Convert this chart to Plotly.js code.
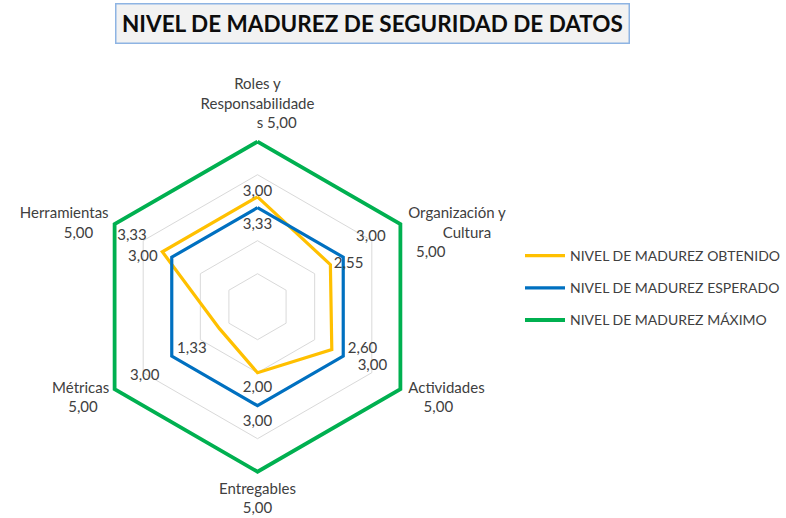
<!DOCTYPE html>
<html>
<head>
<meta charset="utf-8">
<script src="https://cdn.plot.ly/plotly-3.0.1.min.js"></script>
<style>html,body{margin:0;padding:0;background:#fff;}#chart{width:786px;height:518px;}</style>
</head>
<body>
<div id="chart"></div>
<script>
// ---- data ----
const categories = ["Roles y Responsabilidades", "Organización y Cultura", "Actividades", "Entregables", "Métricas", "Herramientas"];
const seriesNames = ["NIVEL DE MADUREZ OBTENIDO", "NIVEL DE MADUREZ ESPERADO", "NIVEL DE MADUREZ MÁXIMO"];
const obtenido = [3.33, 2.55, 2.60, 2.00, 1.33, 3.33];
const esperado = [3.00, 3.00, 3.00, 3.00, 3.00, 3.00];
const maximo = [5.00, 5.00, 5.00, 5.00, 5.00, 5.00];

// ---- styling ----
const colors = ["#FFC000", "#0070C0", "#00B050"];
const widths = [3.2, 3.2, 3.8];
const FONT = "Lato, 'Open Sans', sans-serif";
const labelFont = {family: FONT, size: 15, color: "#404040"};
const fmt = v => v.toFixed(2).replace(".", ",");
const close = a => a.concat([a[0]]);
const sp = n => "\u00a0".repeat(n);

// data-label placement (style only)
const posObt = ["bottom center", "middle right", "middle right", "bottom center", "bottom left", "top left"];
const offObt = [32, 4, 24, 11, 19, 11];
const padObt = [["", ""], ["", ""], ["", ""], ["", ""], ["", ""], ["", sp(2)]];
const posEsp = ["top center", "top right", "bottom right", "bottom center", "bottom left", "middle left"];
const offEsp = [11, 19, 3, 13, 18, 21];
const padEsp = [["", ""], ["", ""], [sp(3), ""], ["", ""], ["", ""], ["", ""]];
const posMax = ["top center", "middle right", "middle right", "bottom center", "middle left", "middle left"];
const offMax = [14, 11, 11, 16, 7, 8];

// wrapped category labels as the chart shows them, joined with the value
const maxLabel = (k, v) => [
  "Roles y<br>Responsabilidade<br>" + sp(10) + "s " + v,
  sp(1) + "<br>Organización y<br>" + sp(9) + "Cultura<br>" + sp(2) + v,
  sp(1) + "<br>Actividades<br>" + sp(4) + v,
  "Entregables<br>" + v,
  sp(1) + "<br>Métricas<br>" + v + sp(3),
  "Herramientas<br>" + v + sp(4)
][k];

const series = [obtenido, esperado, maximo];
const traces = [];
series.forEach((vals, i) => {
  traces.push({
    type: "scatterpolar", mode: "lines",
    r: close(vals), theta: close(categories),
    name: seriesNames[i], legendgroup: "g" + i,
    line: {color: colors[i], width: widths[i]},
    cliponaxis: false, hoverinfo: "skip"
  });
});

function labelTrace(vals, texts, pos, off) {
  return {
    type: "scatterpolar", mode: "markers+text", r: vals, theta: categories,
    text: texts, textposition: pos, textfont: labelFont,
    marker: {size: off, color: "rgba(0,0,0,0)", line: {width: 0}},
    showlegend: false, hoverinfo: "skip", cliponaxis: false
  };
}
traces.push(labelTrace(obtenido, obtenido.map((v, k) => padObt[k][0] + fmt(v) + padObt[k][1]), posObt, offObt));
traces.push(labelTrace(esperado, esperado.map((v, k) => padEsp[k][0] + fmt(v) + padEsp[k][1]), posEsp, offEsp));
traces.push(labelTrace(maximo, maximo.map((v, k) => maxLabel(k, fmt(v))), posMax, offMax));

const W = 786, H = 518;
const RMAX = 5.1;                     // a little room so the outer line is not clipped
const cx = 257.5, cy = 306.7, R = 165 * RMAX / 5;

const layout = {
  width: W, height: H,
  margin: {l: 0, r: 0, t: 0, b: 0},
  paper_bgcolor: "#ffffff",
  showlegend: true,
  font: labelFont,
  polar: {
    domain: {x: [(cx - R) / W, (cx + R) / W], y: [(H - cy - R) / H, (H - cy + R) / H]},
    gridshape: "linear",
    bgcolor: "rgba(0,0,0,0)",
    radialaxis: {range: [0, RMAX], tickvals: [1, 2, 3, 4, 5], showticklabels: false, ticks: "", showline: false, gridcolor: "#d9d9d9", gridwidth: 1},
    angularaxis: {direction: "clockwise", rotation: 90, showticklabels: false, ticks: "", showline: false, showgrid: false}
  },
  legend: {
    x: 520 / W, y: 1 - 240 / H, xanchor: "left", yanchor: "top",
    font: {family: FONT, size: 14, color: "#404040"},
    tracegroupgap: 11, traceorder: "grouped", itemwidth: 40
  },
  annotations: [{
    xref: "paper", yref: "paper", x: 372.5 / W, y: 1 - 23.5 / H, xanchor: "center", yanchor: "middle",
    text: "<b>NIVEL DE MADUREZ DE SEGURIDAD DE DATOS</b>", showarrow: false,
    font: {family: FONT, size: 22.5, color: "#0d0d0d"},
    bgcolor: "#f2f2f2", bordercolor: "#8eb4e3", borderwidth: 1.5, borderpad: 5.5
  }]
};

Plotly.newPlot("chart", traces, layout, {displayModeBar: false, staticPlot: true});
</script>
</body>
</html>
